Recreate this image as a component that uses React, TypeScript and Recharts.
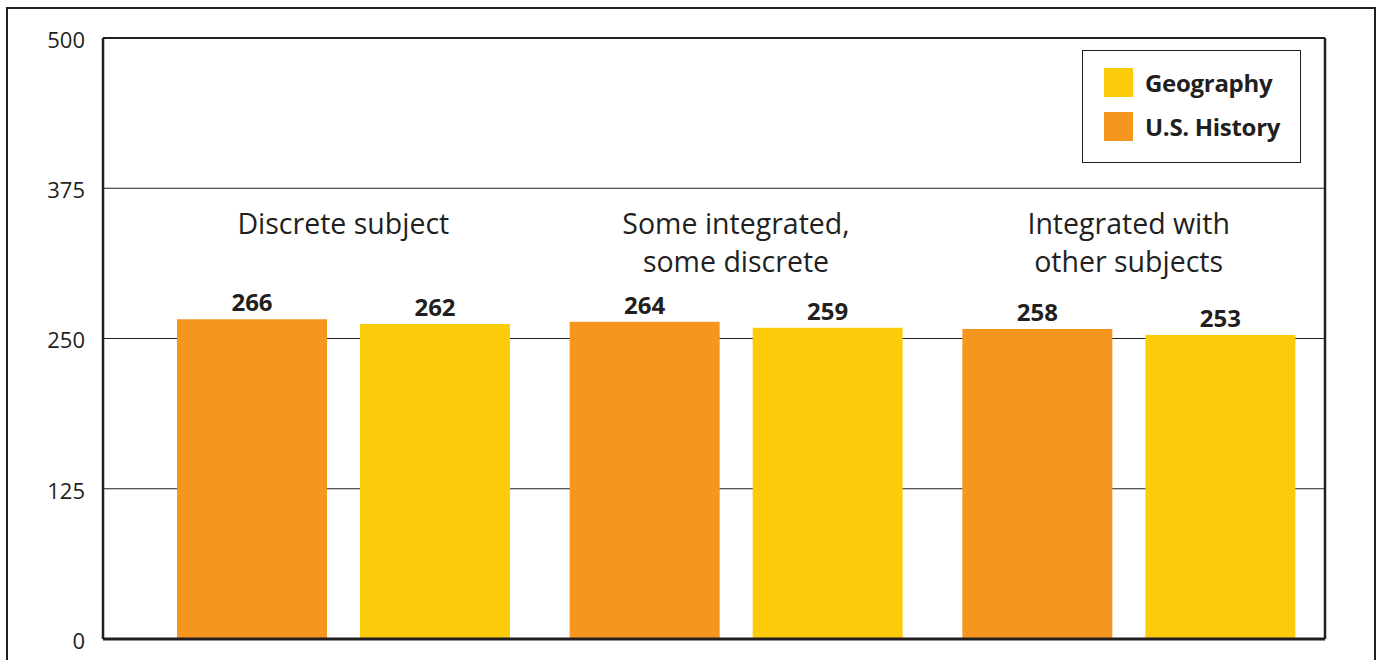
import { BarChart, Bar, XAxis, YAxis, CartesianGrid, ReferenceLine, LabelList, Legend } from "recharts";

const categories = ["Discrete subject", "Some integrated,\nsome discrete", "Integrated with\nother subjects"];
const usHistory = [266, 264, 258];
const geography = [262, 259, 253];
const yTicks = [0, 125, 250, 375, 500];

const data = categories.map((name, i) => ({
  name,
  history: usHistory[i],
  geography: geography[i],
}));

const INK = "#231f20";
const ORANGE = "#F7961E";
const YELLOW = "#FCCB0A";
const FONT = "'Open Sans', 'Noto Sans', sans-serif";

// category names are drawn high up in the plot, above the bars
const CategoryTick = (props: any) => {
  const { x, payload } = props;
  const lines = String(payload.value).split("\n");
  return (
    <text x={x} y={234} textAnchor="middle" fill={INK} fontSize={28.5} fontFamily={FONT}>
      {lines.map((l, i) => (
        <tspan key={i} x={x} dy={i === 0 ? 0 : 38}>
          {l}
        </tspan>
      ))}
    </text>
  );
};

const LegendBox = () => {
  const items = [
    { label: "Geography", color: YELLOW },
    { label: "U.S. History", color: ORANGE },
  ];
  return (
    <div
      style={{
        border: `1.5px solid ${INK}`,
        width: 219,
        height: 113,
        boxSizing: "border-box",
        padding: "17px 0 0 21px",
        background: "#fff",
      }}
    >
      {items.map((it) => (
        <div key={it.label} style={{ display: "flex", alignItems: "center", height: 29, marginBottom: 15 }}>
          <span style={{ width: 29, height: 29, background: it.color, display: "inline-block" }} />
          <span style={{ marginLeft: 12, fontFamily: FONT, fontWeight: 700, fontSize: 24, color: INK, letterSpacing: -0.3 }}>
            {it.label}
          </span>
        </div>
      ))}
    </div>
  );
};

export default function App() {
  return (
    <div style={{ position: "fixed", left: 0, top: 0, width: 1380, height: 660, overflow: "hidden", background: "#fff" }}>
      <div style={{ position: "absolute", left: 0, top: 0 }}>
        <BarChart
          width={1380}
          height={660}
          data={data}
          margin={{ top: 38, right: 54, bottom: 0, left: 43 }}
          barSize={150}
          barGap={33}
        >
          <CartesianGrid vertical={false} stroke={INK} strokeWidth={1} />
          <XAxis
            dataKey="name"
            height={21}
            padding={{ left: 44, right: 0 }}
            tick={<CategoryTick />}
            tickLine={false}
            axisLine={{ stroke: INK, strokeWidth: 3 }}
            interval={0}
          />
          <YAxis
            domain={[0, 500]}
            ticks={yTicks}
            width={60}
            tickLine={false}
            tickSize={10}
            tickMargin={8}
            axisLine={{ stroke: INK, strokeWidth: 2.5 }}
            tick={{ fill: INK, fontSize: 22, fontFamily: FONT, dy: 2 }}
          />
          <YAxis
            yAxisId="right"
            orientation="right"
            domain={[0, 500]}
            width={1}
            tick={false}
            tickLine={false}
            axisLine={{ stroke: INK, strokeWidth: 2.5 }}
          />
          <ReferenceLine y={500} stroke={INK} strokeWidth={2} />
          <Legend
            layout="horizontal"
            verticalAlign="middle"
            align="center"
            content={<LegendBox />}
            wrapperStyle={{ position: "absolute", left: 1082, top: 50, right: "auto", bottom: "auto", width: 219 }}
          />
          <Bar dataKey="history" name="U.S. History" fill={ORANGE} isAnimationActive={false}>
            <LabelList dataKey="history" position="top" offset={8} fill={INK} fontSize={24} fontWeight={700} fontFamily={FONT} />
          </Bar>
          <Bar dataKey="geography" name="Geography" fill={YELLOW} isAnimationActive={false}>
            <LabelList dataKey="geography" position="top" offset={8} fill={INK} fontSize={24} fontWeight={700} fontFamily={FONT} />
          </Bar>
        </BarChart>
      </div>
      {/* outer frame, open at the bottom */}
      <div
        style={{
          position: "absolute",
          left: 6,
          top: 7,
          width: 1370,
          height: 720,
          borderTop: `2.5px solid ${INK}`,
          borderLeft: `2.5px solid ${INK}`,
          borderRight: `2.5px solid ${INK}`,
          boxSizing: "border-box",
          pointerEvents: "none",
        }}
      />
    </div>
  );
}
